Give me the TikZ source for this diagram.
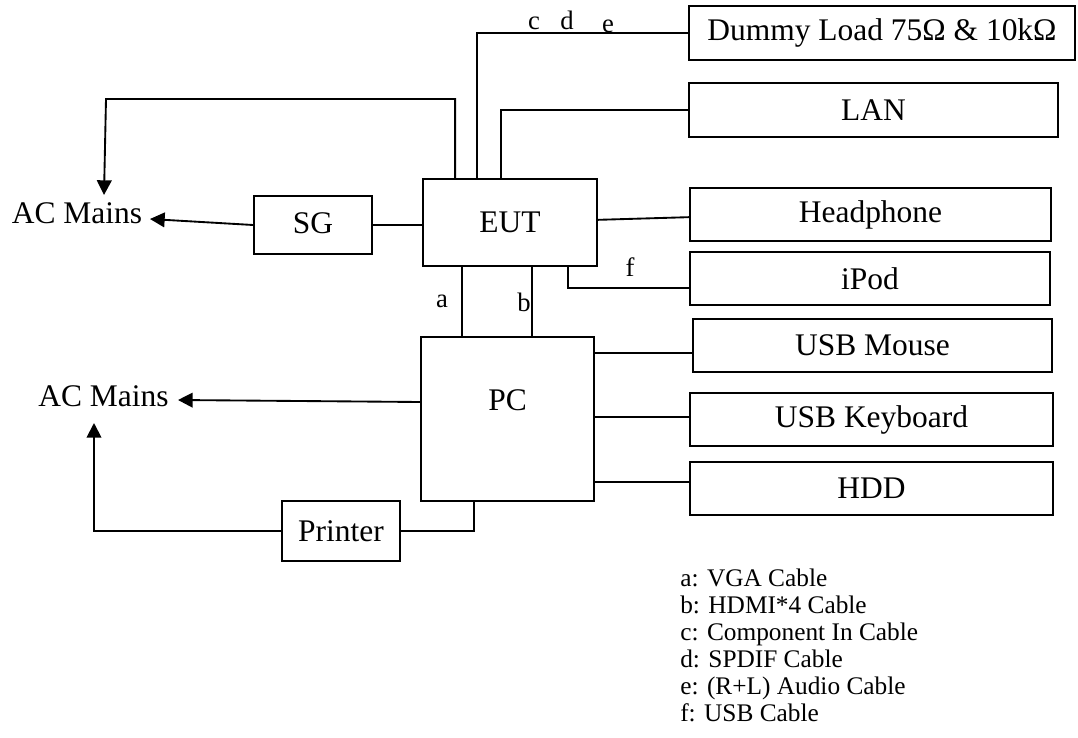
\documentclass[tikz,border=0pt]{standalone}
\usepackage{fontspec}
\setmainfont{Liberation Serif}
\usetikzlibrary{arrows.meta}
\begin{document}
\begin{tikzpicture}[x=0.75pt,y=-0.75pt,
  box/.style={draw, line width=1.4pt, inner sep=0pt, font=\fontsize{23.6}{28}\selectfont},
  big/.style={font=\fontsize{23.6}{28}\selectfont, inner sep=0pt},
  wire/.style={line width=1.4pt},
  arr/.style={wire, -{Triangle[length=11pt,width=11pt]}},
  lbl/.style={font=\fontsize{20}{24}\selectfont, inner sep=0pt, anchor=base},
  leg/.style={font=\fontsize{19}{23}\selectfont, inner sep=0pt, anchor=base west}]
\useasboundingbox (0,0) rectangle (1078,738);

% boxes
\node[box, minimum width=289.5pt, minimum height=40.5pt] (dl) at (882,33) {Dummy Load 75Ω \& 10kΩ};
\node[box, minimum width=276.75pt, minimum height=40.5pt] (lan) at (873.5,110) {LAN};
\node[box, minimum width=270.75pt, minimum height=39.75pt] (hp) at (870.5,214.5) {Headphone};
\node[box, minimum width=270pt, minimum height=39.75pt] (ipod) at (870,278.5) {iPod};
\node[box, minimum width=269.25pt, minimum height=39.75pt] (mouse) at (872.5,345.5) {USB Mouse};
\node[box, minimum width=272.25pt, minimum height=39.75pt] (kb) at (871.5,419.5) {USB Keyboard};
\node[box, minimum width=272.25pt, minimum height=39.75pt] (hdd) at (871.5,488.5) {HDD};
\node[box, minimum width=130.5pt, minimum height=65.25pt] (eut) at (510,222.5) {EUT};
\node[box, minimum width=88.5pt, minimum height=43.5pt,
      label={[big,yshift=1.5pt]center:SG}] (sg) at (313,225) {};
\node[box, minimum width=129.75pt, minimum height=123pt,
      label={[big,yshift=14pt]center:PC}] (pc) at (507.5,419) {};
\node[box, minimum width=88.5pt, minimum height=45pt] (pr) at (341,531) {Printer};

% AC mains texts
\node[big] (ac1) at (77,213) {AC Mains};
\node[big] (ac2) at (103.5,396) {AC Mains};
\coordinate (tipA) at (150,219);
\coordinate (tipB) at (104,195);
\coordinate (tipC) at (178,400);
\coordinate (tipD) at (94,423);

% connectors
\draw[arr] (sg.west) -- (tipA);
\draw[wire] (sg.east) -- (sg.east -| eut.west);
\draw[arr] ([xshift=24.75pt]eut.north west) |- (106,99) -- (tipB);
\draw[wire] ([xshift=41.25pt]eut.north west) |- (dl.west);
\draw[wire] ([xshift=59.25pt]eut.north west) |- (lan.west);
\draw[wire] ([yshift=2pt]eut.east) -- ([yshift=-2pt]hp.west);
\draw[wire] ([xshift=109.5pt]eut.south west) |- ([yshift=-7pt]ipod.west);
\draw[wire] ([xshift=30pt]eut.south west) -- ([xshift=30pt]eut.south west |- pc.north);
\draw[wire] ([xshift=82.5pt]eut.south west) -- ([xshift=82.5pt]eut.south west |- pc.north);
\draw[arr] ([yshift=12.75pt]pc.west) -- (tipC);
\draw[wire] (pc.east |- 0,353) -- ([yshift=-5.6pt]mouse.west);
\draw[wire] (pc.east |- 0,417) -- ([yshift=1.9pt]kb.west);
\draw[wire] (pc.east |- 0,482) -- ([yshift=4.9pt]hdd.west);
\draw[wire] ([xshift=40.5pt]pc.south west) |- (pr.east);
\draw[arr] (pr.west) -| (tipD);

% cable labels
\node[lbl] (la) at (442,307) {a};
\node[lbl] (lb) at (524,311) {b};
\node[lbl] (lc) at (534,30) {c};
\node[lbl] (ld) at (567,30) {d};
\node[lbl] (le) at (608,33) {e};
\node[lbl] (lf) at (630,276) {f};

% legend
\node[leg] (ga) at (680,586) {a: VGA Cable};
\node[leg] (gb) at (680,613) {b: HDMI*4 Cable};
\node[leg] (gc) at (680,640) {c: Component In Cable};
\node[leg] (gd) at (680,667) {d: SPDIF Cable};
\node[leg] (ge) at (680,694.5) {e: (R+L) Audio Cable};
\node[leg] (gf) at (680,721.5) {f: USB Cable};
\end{tikzpicture}
\end{document}
